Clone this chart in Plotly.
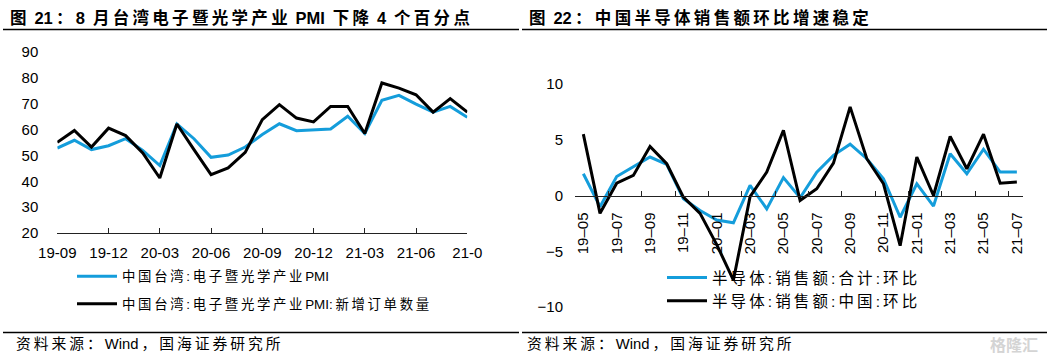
import plotly.graph_objects as go

W, H = 1047, 362


def px(x):
    return x / W


def py(y):
    return 1 - y / H


def spaced(s):
    out = []
    for i, ch in enumerate(s):
        out.append(ch)
        if i < len(s) - 1:
            nxt = s[i + 1]
            if not (ch.isascii() and nxt.isascii()):
                out.append("\u2009")
    return "".join(out)


# ---------------- data: left chart ----------------
months_left = ["19-09", "19-10", "19-11", "19-12", "20-01", "20-02", "20-03", "20-04",
               "20-05", "20-06", "20-07", "20-08", "20-09", "20-10", "20-11", "20-12",
               "21-01", "21-02", "21-03", "21-04", "21-05", "21-06", "21-07", "21-08", "21-09"]
pmi_total = [52.9, 55.9, 52.3, 53.8, 56.5, 52.0, 46.1, 62.2, 56.5, 49.3, 50.2, 53.3, 58.1,
             62.3, 59.6, 60.0, 60.3, 65.2, 58.5, 71.4, 73.3, 69.9, 66.8, 69.0, 64.8]
pmi_new_orders = [55.1, 59.7, 53.3, 60.6, 57.7, 51.0, 41.3, 62.2, 52.3, 42.6, 45.2, 51.2, 63.9,
                  69.7, 64.5, 63.0, 69.0, 69.0, 58.5, 78.1, 76.1, 73.5, 66.8, 72.0, 66.8]
left_tickvals = ["19-09", "19-12", "20-03", "20-06", "20-09", "20-12", "21-03", "21-06", "21-09"]
left_ticktext = ["19-09", "19-12", "20-03", "20-06", "20-09", "20-12", "21-03", "21-06", "21-0"]
left_yticks = [20, 30, 40, 50, 60, 70, 80, 90]
left_names = ["中国台湾:电子暨光学产业PMI", "中国台湾:电子暨光学产业PMI:新增订单数量"]

# ---------------- data: right chart ----------------
months_right = ["19–05", "19–06", "19–07", "19–08", "19–09", "19–10", "19–11", "19–12",
                "20–01", "20–02", "20–03", "20–04", "20–05", "20–06", "20–07", "20–08",
                "20–09", "20–10", "20–11", "20–12", "21–01", "21–02", "21–03", "21–04",
                "21–05", "21–06", "21–07"]
semi_total = [1.95, -1.0, 1.7, 2.6, 3.45, 2.8, -0.3, -1.35, -2.2, -2.45, 0.9, -1.2, 1.6,
              -0.2, 2.1, 3.6, 4.6, 3.3, 1.5, -1.95, 1.05, -0.95, 3.75, 1.95, 4.15, 2.1, 2.1]
semi_china = [5.5, -1.6, 1.1, 1.8, 4.4, 2.85, -0.15, -1.6, -4.4, -7.6, -0.1, 2.1, 5.85,
              -0.45, 0.6, 2.9, 7.95, 3.3, 1.05, -4.5, 3.45, 0.0, 5.3, 2.4, 5.5, 1.1, 1.2]
right_yticks = [-10, -5, 0, 5, 10]
right_names = ["半导体:销售额:合计:环比", "半导体:销售额:中国:环比"]

titles = ["图 21：8 月台湾电子暨光学产业 PMI 下降 4 个百分点", "图 22：中国半导体销售额环比增速稳定"]
source = "资料来源：Wind，国海证券研究所"

BLUE = "#149DDB"
BLACK = "#000000"
LAT = "Liberation Sans, Arial, sans-serif"
CJK = "Liberation Sans, Noto Sans CJK SC, sans-serif"

fig = go.Figure()

fig.add_trace(go.Scatter(x=months_left, y=pmi_total, mode="lines", name=spaced(left_names[0]),
                         line=dict(color=BLUE, width=3), xaxis="x", yaxis="y",
                         legend="legend", legendgroup="l1"))
fig.add_trace(go.Scatter(x=months_left, y=pmi_new_orders, mode="lines", name=spaced(left_names[1]),
                         line=dict(color=BLACK, width=3), xaxis="x", yaxis="y",
                         legend="legend", legendgroup="l2"))
fig.add_trace(go.Scatter(x=months_right, y=semi_total, mode="lines", name=spaced(right_names[0]),
                         line=dict(color=BLUE, width=3), xaxis="x2", yaxis="y2",
                         legend="legend2", legendgroup="r1"))
fig.add_trace(go.Scatter(x=months_right, y=semi_china, mode="lines", name=spaced(right_names[1]),
                         line=dict(color=BLACK, width=3), xaxis="x2", yaxis="y2",
                         legend="legend2", legendgroup="r2"))

r_bottom, r_top = py(307), py(84)
zero_pos = r_bottom + (r_top - r_bottom) * (0 - (-10)) / 20

fig.update_layout(
    width=W, height=H,
    margin=dict(l=0, r=0, t=0, b=0, autoexpand=False),
    paper_bgcolor="white", plot_bgcolor="white",
    font=dict(family=LAT, color="#000"),
    xaxis=dict(domain=[px(57.3), px(467.3)], type="category", range=[0, 24],
               tickmode="array", tickvals=left_tickvals, ticktext=left_ticktext,
               ticks="inside", ticklen=5, tickcolor="#222", tickwidth=1,
               showline=True, linecolor="#222", linewidth=1, showgrid=False, zeroline=False,
               tickfont=dict(size=15, family=LAT, color="#000"), ticklabelstandoff=6,
               anchor="y", automargin=False),
    yaxis=dict(domain=[py(233), py(52.2)], range=[20, 90], tickmode="array", tickvals=left_yticks,
               showline=False, ticks="", showgrid=False, zeroline=False,
               tickfont=dict(size=15, family=LAT, color="#000"), ticklabelstandoff=18,
               anchor="x", automargin=False),
    xaxis2=dict(domain=[px(575), px(1022.7)], type="category", range=[-0.5, 26.35],
                tickmode="linear", tick0=0, dtick=2, tickson="boundaries",
                ticks="inside", ticklen=5, tickcolor="#222", tickwidth=1,
                showline=True, linecolor="#222", linewidth=1, showgrid=False, zeroline=False,
                tickangle=-90, tickfont=dict(size=15, family=LAT, color="#000"),
                ticklabelstandoff=10, anchor="free", position=zero_pos, automargin=False),
    yaxis2=dict(domain=[r_bottom, r_top], range=[-10, 10], tickmode="array", tickvals=right_yticks,
                showline=False, ticks="", showgrid=False, zeroline=False,
                tickfont=dict(size=15, family=LAT, color="#000"), ticklabelstandoff=11,
                anchor="x2", automargin=False),
    legend=dict(x=px(72), y=py(261), xanchor="left", yanchor="top", bgcolor="rgba(0,0,0,0)",
                font=dict(size=13.4, family=CJK, color="#000"), tracegroupgap=7, itemwidth=40,
                traceorder="grouped"),
    legend2=dict(x=px(662), y=py(261), xanchor="left", yanchor="top", bgcolor="rgba(0,0,0,0)",
                 font=dict(size=15.5, family=CJK, color="#000"), tracegroupgap=0, itemwidth=40,
                 traceorder="grouped"),
    showlegend=True,
)

# titles
fig.add_annotation(x=px(8), y=py(17), xref="paper", yref="paper", xanchor="left", yanchor="middle",
                   text="<b>" + spaced(titles[0]) + "</b>", showarrow=False,
                   font=dict(size=16.5, family=CJK, color="#000"))
fig.add_annotation(x=px(527), y=py(17), xref="paper", yref="paper", xanchor="left", yanchor="middle",
                   text="<b>" + spaced(titles[1]) + "</b>", showarrow=False,
                   font=dict(size=16.5, family=CJK, color="#000"))
# sources
fig.add_annotation(x=px(14), y=py(344), xref="paper", yref="paper", xanchor="left", yanchor="middle",
                   text=spaced(source), showarrow=False,
                   font=dict(size=14.8, family=CJK, color="#000"))
fig.add_annotation(x=px(525), y=py(344), xref="paper", yref="paper", xanchor="left", yanchor="middle",
                   text=spaced(source), showarrow=False,
                   font=dict(size=14.8, family=CJK, color="#000"))
# watermark
fig.add_annotation(x=px(1040), y=py(345), xref="paper", yref="paper", xanchor="right", yanchor="middle",
                   text="<b>格隆汇</b>", showarrow=False,
                   font=dict(size=16, family=CJK, color="#d4d4d4"))

# rule lines under titles and above sources
for (x0, x1) in [(3, 519), (522, 1047)]:
    for yy in (29.5, 332.5):
        fig.add_shape(type="line", xref="paper", yref="paper", x0=px(x0), x1=px(x1),
                      y0=py(yy), y1=py(yy), line=dict(color="#000", width=1.5))

fig.write_html("out.html", config={"displayModeBar": False},
               post_script="document.body.style.margin='0px';")
